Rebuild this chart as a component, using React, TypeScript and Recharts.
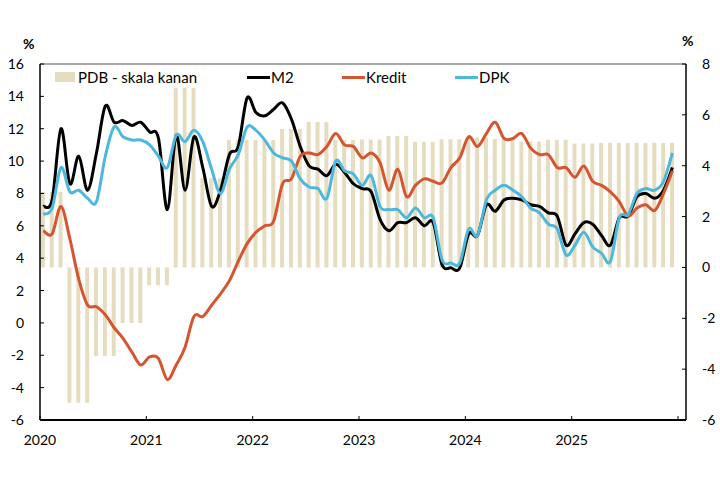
import { Bar, ComposedChart, Line, ReferenceLine, XAxis, YAxis } from "recharts";

// monthly growth, Jan 2020 - Dec 2025 (% yoy)
const m2 = [
  7.2, 7.6, 12.0, 8.6, 10.3, 8.2, 10.5, 13.4, 12.4, 12.5, 12.2, 12.4,
  11.8, 11.4, 7.0, 11.6, 8.2, 11.5, 9.6, 7.2, 8.2, 10.4, 10.9, 13.9,
  13.0, 12.8, 13.2, 13.6, 12.6, 10.9, 9.7, 9.5, 9.1, 9.8, 9.3, 8.6,
  8.3, 8.1, 6.4, 5.7, 6.2, 6.2, 6.5, 6.0, 6.2, 3.6, 3.4, 3.4,
  5.5, 5.4, 7.3, 6.9, 7.6, 7.7, 7.6, 7.3, 7.2, 6.8, 6.6, 4.8,
  5.5, 6.2, 6.1, 5.4, 4.8, 6.5, 6.6, 7.8, 8.0, 7.7, 8.2, 9.6,
];
const kredit = [
  5.7, 5.5, 7.2, 5.2, 2.7, 1.1, 1.0, 0.5, -0.3, -0.95, -1.8, -2.6,
  -2.1, -2.2, -3.5, -2.6, -1.5, 0.4, 0.4, 1.1, 1.8, 2.6, 3.8, 4.9,
  5.6, 6.0, 6.3, 8.6, 8.9, 10.3, 10.5, 10.4, 10.9, 11.7, 11.0, 10.9,
  10.2, 10.5, 9.9, 8.2, 9.5, 7.8, 8.5, 8.9, 8.75, 8.65, 9.6, 10.2,
  11.5, 10.9, 11.7, 12.4, 11.4, 11.4, 11.7, 10.8, 10.4, 10.4, 9.6, 9.6,
  9.0, 9.7, 8.75, 8.5, 8.1, 7.5, 6.6, 7.1, 7.3, 6.95, 8.0, 9.4,
];
const dpk = [
  6.7, 7.1, 9.6, 8.1, 8.2, 7.7, 7.5, 10.3, 12.1, 11.5, 11.3, 11.3,
  11.0, 10.3, 9.6, 11.6, 11.2, 11.9, 11.2, 9.5, 8.0, 9.5, 10.4, 12.1,
  11.9, 11.3, 10.5, 10.2, 10.0, 8.9, 8.4, 8.3, 7.7, 10.0, 9.4, 9.2,
  8.5, 9.1, 7.2, 7.0, 7.0, 6.5, 7.1, 6.5, 6.5, 3.9, 3.7, 3.7,
  5.8, 5.4, 7.6, 8.2, 8.5, 8.2, 7.8, 7.1, 6.8, 6.1, 5.8, 4.2,
  4.8, 5.6, 4.7, 4.3, 3.8, 6.5, 6.7, 8.0, 8.3, 8.2, 8.75, 10.5,
];
// quarterly GDP growth, right-hand scale
const pdbQuarterly = [
  2.97, -5.32, -3.49, -2.19,
  -0.7, 7.07, 3.51, 5.02,
  5.01, 5.44, 5.72, 5.01,
  5.03, 5.17, 4.94, 5.04,
  5.11, 5.05, 4.95, 5.02,
  4.87, 4.9, 4.9, 4.9,
];

const yearTicks = [2020, 2021, 2022, 2023, 2024, 2025, 2026];
const leftTicks = [-6, -4, -2, 0, 2, 4, 6, 8, 10, 12, 14, 16];
const rightTicks = [-6, -4, -2, 0, 2, 4, 6, 8];

const data = m2.map((v, i) => ({
  t: 2020 + (i + 0.37) / 12,
  m2: v,
  kredit: kredit[i],
  dpk: dpk[i],
  pdb: pdbQuarterly[Math.floor(i / 3)],
}));

const FONT = "Lato, 'Open Sans', sans-serif";
const BAR = "#E6DCC0";
const tickStyle = { fontSize: 14, fill: "#000", fontFamily: FONT };

// excel-style smoothed line (catmull-rom through every point)
function smoothCurve(context: any) {
  let pts: number[][] = [];
  return {
    areaStart() {},
    areaEnd() {},
    lineStart() {
      pts = [];
    },
    point(x: number, y: number) {
      pts.push([+x, +y]);
    },
    lineEnd() {
      if (!pts.length) return;
      context.moveTo(pts[0][0], pts[0][1]);
      for (let i = 0; i < pts.length - 1; i++) {
        const p0 = pts[Math.max(i - 1, 0)];
        const p1 = pts[i];
        const p2 = pts[i + 1];
        const p3 = pts[Math.min(i + 2, pts.length - 1)];
        context.bezierCurveTo(
          p1[0] + (p2[0] - p0[0]) / 6,
          p1[1] + (p2[1] - p0[1]) / 6,
          p2[0] - (p3[0] - p1[0]) / 6,
          p2[1] - (p3[1] - p1[1]) / 6,
          p2[0],
          p2[1]
        );
      }
    },
  };
}

function LegendLine({ left, color, label }: { left: number; color: string; label: string }) {
  return (
    <div style={{ position: "absolute", left, top: 67, display: "flex", alignItems: "center", height: 20 }}>
      <span style={{ width: 23, height: 3, background: color, display: "inline-block" }} />
      <span style={{ marginLeft: 1 }}>{label}</span>
    </div>
  );
}

export default function App() {
  return (
    <div style={{ position: "absolute", left: 0, top: 0, width: 720, height: 500, background: "#fff", fontFamily: FONT, fontSize: 15, color: "#000" }}>
      <ComposedChart width={720} height={500} data={data} margin={{ top: 64, right: 0, bottom: 50, left: 0 }}>
        <XAxis
          dataKey="t"
          type="number"
          domain={[2020, 2026.075]}
          allowDataOverflow
          ticks={yearTicks}
          interval={0}
          tickFormatter={(v) => (v === 2026 ? "" : String(v))}
          height={30}
          tickSize={-4}
          tickMargin={19}
          tick={tickStyle}
          axisLine={{ stroke: "#000", strokeWidth: 2 }}
          tickLine={{ stroke: "#000" }}
        />
        <YAxis
          yAxisId="left"
          domain={[-6, 16]}
          ticks={leftTicks}
          interval={0}
          width={40}
          tickSize={-4}
          tickMargin={20}
          tick={tickStyle}
          axisLine={{ stroke: "#000", strokeWidth: 1.5 }}
          tickLine={{ stroke: "#000" }}
        />
        <YAxis
          yAxisId="right"
          orientation="right"
          domain={[-6, 8]}
          ticks={rightTicks}
          interval={0}
          width={34}
          tickSize={-4}
          tickMargin={20}
          tick={tickStyle}
          axisLine={{ stroke: "#000", strokeWidth: 1.5 }}
          tickLine={{ stroke: "#000" }}
        />
        <ReferenceLine yAxisId="left" y={16} stroke="#8c8c8c" strokeWidth={1.5} />
        <Bar yAxisId="right" dataKey="pdb" fill={BAR} barSize={4} isAnimationActive={false} />
        <Line yAxisId="left" type={smoothCurve as any} dataKey="m2" stroke="#000000" strokeWidth={3} dot={false} isAnimationActive={false} />
        <Line yAxisId="left" type={smoothCurve as any} dataKey="kredit" stroke="#D45530" strokeWidth={3} dot={false} isAnimationActive={false} />
        <Line yAxisId="left" type={smoothCurve as any} dataKey="dpk" stroke="#4CB8DE" strokeWidth={3} dot={false} isAnimationActive={false} />
      </ComposedChart>

      <div style={{ position: "absolute", left: 23, top: 35, fontSize: 14, fontWeight: 700 }}>%</div>
      <div style={{ position: "absolute", left: 682, top: 32, fontSize: 14, fontWeight: 700 }}>%</div>

      <div style={{ position: "absolute", left: 55, top: 67, display: "flex", alignItems: "center", height: 20 }}>
        <span style={{ width: 20, height: 10, background: BAR, display: "inline-block" }} />
        <span style={{ marginLeft: 3 }}>PDB - skala kanan</span>
      </div>
      <LegendLine left={247} color="#000000" label="M2" />
      <LegendLine left={342} color="#D45530" label="Kredit" />
      <LegendLine left={455} color="#4CB8DE" label="DPK" />
    </div>
  );
}
